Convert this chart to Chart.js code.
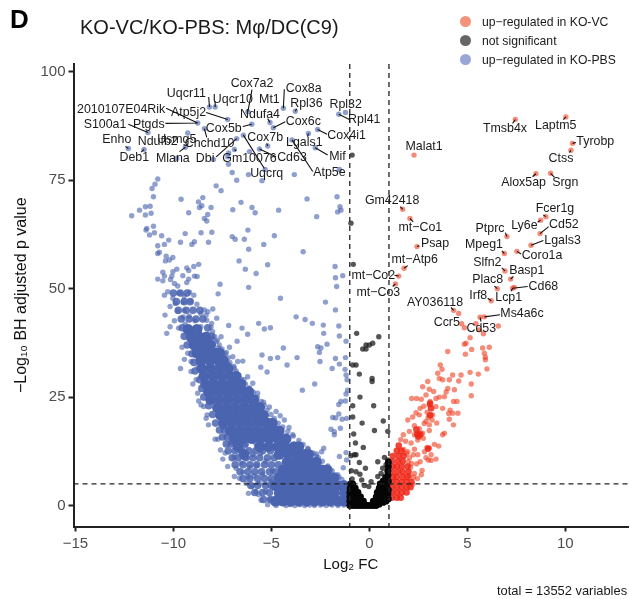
<!DOCTYPE html>
<html>
<head>
<meta charset="utf-8">
<title>KO-VC/KO-PBS volcano</title>
<script src="https://cdn.jsdelivr.net/npm/chart.js@4"></script>
<style>
body { margin: 0; background: #fff; font-family: "Liberation Sans", sans-serif; color: #1a1a1a; }
#wrap { position: relative; width: 630px; height: 599px; overflow: hidden; }
#wrap div { position: absolute; white-space: nowrap; }
.dot { width: 11px; height: 11px; border-radius: 50%; }
.leg { font-size: 12.2px; line-height: 14px; left: 482px; }
</style>
</head>
<body>
<div id="wrap">
<canvas id="myChart" width="630" height="599"></canvas>
<div style="left:10px;top:4px;font-size:26px;font-weight:bold;color:#000">D</div>
<div style="left:80px;top:16px;font-size:20px">KO-VC/KO-PBS: Mφ/DC(C9)</div>
<div class="dot" style="left:460px;top:16px;background:#f4927b"></div>
<div class="dot" style="left:460px;top:35px;background:#666"></div>
<div class="dot" style="left:460px;top:54px;background:#9aa6d8"></div>
<div class="leg" style="top:15px">up−regulated in KO-VC</div>
<div class="leg" style="top:34px">not significant</div>
<div class="leg" style="top:53px">up−regulated in KO-PBS</div>
<div style="left:497px;top:583px;font-size:12.9px">total = 13552 variables</div>
</div>
<script>
const xTicks = [-15, -10, -5, 0, 5, 10];
const yTicks = [0, 25, 50, 75, 100];
const xCutoffs = [-1, 1];
const yCutoff = 5;

// labelled genes: name and text centre
const geneNames = ['Uqcr11','Cox7a2','Cox8a','Uqcr10','Mt1','Rpl36','Rpl32','2010107E04Rik','Atp5j2','Ndufa4','S100a1','Ptgds','Cox5b','Cox6c','Rpl41','Cox4i1','Usmg5','Cox7b','Enho','Ndufb2','Lgals1','Chchd10','Deb1','Mlana','Dbi','Gm10076','Cd63','Mif','Uqcrq','Atp5e',
    'Tmsb4x','Laptm5','Tyrobp','Ctss','Malat1','Alox5ap','Srgn','Gm42418','mt−Co1','Fcer1g','Ly6e','Cd52','Ptprc','Lgals3','Psap','Mpeg1','Coro1a','mt−Atp6','Slfn2','Basp1','mt−Co2','Plac8','Cd68','mt−Co3','Irf8','Lcp1','AY036118','Ms4a6c','Ccr5','Cd53'];
const geneTextX = [-9.34,-5.99,-3.35,-6.97,-5.1,-3.21,-1.21,-12.67,-9.23,-5.58,-13.49,-11.26,-7.43,-3.37,-0.26,-1.16,-9.83,-5.32,-12.89,-10.8,-3.32,-8.16,-12,-10.03,-8.38,-6.12,-3.95,-1.63,-5.24,-2.04,
    6.92,9.51,11.53,9.78,2.79,7.87,10,1.16,2.6,9.47,7.91,9.93,6.16,9.86,3.35,5.85,8.81,2.31,6.02,8.03,0.2,6.04,8.88,0.46,5.56,7.11,3.35,7.79,3.95,5.71];
const geneTextY = [95,97.3,96.2,93.7,93.7,92.7,92.5,91.4,90.6,90.2,87.9,87.9,86.9,88.6,88.9,85.3,84.4,84.8,84.3,83.9,83.6,83.5,80.2,80,80,80,80.2,80.4,76.6,76.7,
    86.9,87.6,84,80,82.7,74.4,74.5,70.2,64.1,68.4,64.5,64.7,63.9,61.1,60.5,60.1,57.6,56.6,56.1,54.1,53.1,52,50.5,49,48.4,47.9,46.9,44.2,42.2,40.9];

// connectors as [fromX, fromY, toX, toY]
const connectors = [[-8.2,94.2,-8.16,91.9],[-7.87,93.2,-7.87,91.9],[-5.99,95.9,-6.2,90.8],[-4.34,96,-4.39,91.6],[-3.71,91.5,-3.78,90.9],[-1.02,89,-1.56,90.2],[-10.37,91.6,-8.76,88.2],[-12.3,87.9,-11.3,86],[-10.41,88.1,-8.76,88.2],[-8.33,90.6,-7.23,89],[-5.19,89.2,-5.07,88.3],[-6.46,87.4,-6,87.9],[-4.29,88.5,-4.9,87.1],[-2.16,85.6,-2.64,86.7],[-2.13,80.8,-2.76,82.5],[-2.89,77,-3.95,84.3],[-3.15,85,-3.11,85.8],[-5.24,83.5,-5.19,82.9],[-5.36,77.7,-6.43,85.4],[-4.76,80.4,-5.61,82.2],[-6.8,81.8,-6.89,82.1],[-7.82,80.4,-6.77,84.6],[-8.3,84.9,-8.42,86.9],[-9.69,81.6,-9.39,82.6],[-12.45,82.8,-12.3,82.3],[-11.65,81.5,-11.5,82.1],
    [7.31,88.1,7.45,89],[9.9,89,10.03,89.6],[10.54,83.7,10.37,83.5],[10.2,81.4,10.29,81.9],[8.33,75.8,8.5,76.5],[9.44,75.7,9.25,76.6],[1.58,68.9,1.7,68.3],[2.24,65.4,2.07,66.2],[2.55,59.9,2.43,59.7],[1.96,55.3,1.77,54.7],[1.28,53.1,1.5,52.9],[1.19,50.5,1.33,51.1],[6.94,62.9,7.02,62],[6.76,58.7,6.89,58.1],[7.74,58,7.53,58.6],[8.88,61.1,8.25,60],[9.15,64.3,8.71,62.7],[8.59,65.3,8.74,65.8],[8.88,67,9.01,66.6],[6.76,54.8,6.92,54.1],[7.35,52.8,7.21,52.2],[8.08,50.5,7.31,50.1],[7.23,49.4,7.31,50.1],[6.38,50.6,6.53,50],[6.04,47.8,6.22,47.2],[4.17,45.7,4.3,45],[6.67,44,5.87,43.5],[5.7,42.4,5.65,43.4]];

const blueSparse = [[-8.16,91.9],[-7.87,91.9],[-7.23,89],[-8.76,88.2],[-11.3,86],[-12.3,82.3],[-11.5,82.1],[-9.27,85.9],[-8.42,86.9],[-9.39,82.6],[-9.83,80],[-7.96,79.8],[-6.77,84.6],[-6.43,85.4],[-6,87.9],[-6.2,90.8],[-5.07,88.3],[-4.9,87.1],[-4.39,91.6],[-3.78,90.9],[-1.56,90.2],[-1.22,90.6],[-2.64,86.7],[-3.11,85.8],[-3.95,84.3],[-2.76,82.5],[-5.19,82.9],[-5.61,82.2],[-6.12,81.6],[-6.89,82.1],[-7.18,81.3],[-7.23,80.4],[-7.19,78.7],[-7,76.8],[-6.77,75],[-6.17,76.3],[-5.48,74.9],[-5.32,77.5],[-3.83,76.3],[-1.53,77.5],
    [-10.8,75.3],[-10.94,74.1],[-11.09,73.1],[-11.02,71.2],[-7.82,73.7],[-7.57,72.6],[-9.61,70.6],[-8.5,71],[-8.72,70],[-8.55,69.1],[-8.67,68.7],[-8.08,68.7],[-6.55,69.9],[-5.99,68.7],[-6.97,68.2],[-4.63,68.1],[-3.18,70.7],[-1.65,71.2],[-1.5,68.9],[-1.45,68.1],[-1.62,67.7],[-2.69,66.6],[-5.83,67.5],[-9.22,67.5],[-8.25,67.1],[-8.42,66.2],[-8.3,65.6],[-11.73,68.1],[-11.43,68.9],[-11.19,69],[-11.43,67],[-11.14,67.4],[-12.13,66.8],[-11.36,63.9],[-11.02,64.4],[-6.2,63.5],
    [-11.4,63.5],[-11.22,62.4],[-10.97,62.9],[-10.6,62.2],[-9.4,62.7],[-8.59,62.9],[-8.04,63],[-7,62],[-6.85,61.4],[-6.38,61.4],[-4.85,62.2],[-5.39,60.2],[-6.16,59.1],[-3.38,58.5],[-10.24,61.2],[-10.8,59.9],[-10.46,60.2],[-9.64,60.7],[-9.06,60.2],[-8.93,60.8],[-8.21,60.7],[-10.8,58.1],[-10.72,58.4],[-10.37,57.5],[-10.03,57.2],[-10.41,56.4],[-10.2,56.6],[-9.32,54.8],[-8.96,55.1],[-8.71,55.6],[-9.22,54.2],[-9.83,54.5],[-10.03,53.9],[-10.54,53.8],[-10.46,52.9],[-9.52,53],[-8.93,52.9],[-8.79,52.8],[-10.08,52.9],[-10.8,52.2],[-10.54,51.8],[-10.15,52.1],[-9.22,52.2],[-9.32,51.4],[-9.95,51.2],[-9.78,50.6],[-7.62,51],[-6.16,50.3],[-7.72,48.8],[-6.65,56.4],[-6.33,54.5],[-5.78,53.5],[-5.19,55.5],[-1.75,55.1],[-1.36,53],[-1.73,52.5],[-1.67,50.5],[-4.54,47.8],[-2.24,46.9],[-1.73,45.1],[-3.74,43.5],[-3.28,42.9],[-2.91,42],[-2.35,41.6],[-1.56,41.4],[-2.33,39.7],[-1.53,39.1],[-1.19,37.9],[-5.65,42],[-6.5,40.9],[-5.36,40.7],[-5.05,41],[-6.21,39.5],[-7.18,41.5],[-6.75,37.9],[-4.39,36.3],[-2.64,36.6],[-2.47,36.3],[-2.55,35.3],[-2.16,37.2],[-5.48,34.7],[-5.05,33.9],[-4.68,34.1],[-3.69,34.1],[-4.2,32.4],[-2.52,33.2],[-1.73,33.9],[-1.22,34.1],[-1.53,32.6],[-1.9,31.6],[-1.24,31.4],[-5.54,31.9],[-5.22,30.8],[-1.19,30.1],[-1.14,29],[-2.79,28],[-3.42,26.6],[-1.11,26.6],[-1.19,25.7],[-1.45,24],[-1.22,24.1],[-1.56,23.3],[-1.56,21.1],[-1.87,20.3],[-1.72,20.2],[-1.39,19.9],[-1.16,20.1],[-1.96,17.6],[-1.79,17],[-1.48,17.8],[-1.79,16.3],[-2.33,13.2],[-2.43,12.4],[-2.69,11.9],[-1.53,11.3],[-1.19,12.2],[-1.16,10.5],[-1.33,8.7]];

const blueEdge = [[-10.46,48.5],[-10.29,49.3],[-10.03,47.8],[-9.7,49],[-9.45,48.3],[-9.18,49.2],[-8.96,48.5],[-9.9,46.6],[-9.5,46.9],[-9.1,47.1],[-8.8,46.4],[-10.17,45.9],[-10.43,43.9],[-9.95,42.6],[-10.17,41.2],[-9.74,40.9],[-10.34,39.7],[-9.8,44.8],[-9.45,45],[-8.42,45.1],[-8.24,44.7],[-7.99,45.3],[-8.33,43.9],[-8.6,44.2],[-7.79,43.2],[-8.08,41.1],[-7.57,38.9],[-7.83,37.8],[-9.56,36.5],[-9.44,33.7],[-9.64,31.6],[-9.1,33.2],[-9.27,35.1],[-9.1,30.9],[-9.01,28],[-8.84,29],[-8.71,24.1],[-8.59,23.2],[-8.76,25.9],[-8.46,22.8],[-8.28,20.9],[-8.21,18.6],[-8.33,20.1],[-7.87,15.3],[-7.73,15.3],[-7.6,12.8],[-7.48,10.7],[-7.36,12.1],[-7.23,9],[-6.89,6.7],[-6.63,6.3],[-6.29,5.1],[-6.17,2.8],[-5.78,3.2],[-5.53,1.2],[-5.19,0.2],[-4.76,0],[-4.25,0],
    [-7.14,36.5],[-6.97,34.3],[-6.72,33.2],[-6.46,33.3],[-6.21,29.7],[-5.95,28.2],[-5.7,25.9],[-4.76,21.7],[-4.34,19.7],[-3.91,16.3],[-3.15,13.2],[-2.72,11.3],[-7.3,35.3],[-6.9,31.7],[-6.4,29],[-6.15,27],[-5.4,23.8],[-5.1,22.7],[-4.55,20.7],[-4.1,18],[-3.6,15],[-2.4,10.2],[-1.9,8],[-1.55,6.6],[-1.25,5.2],
    [-1.4,6],[-1.62,7.1],[-2.12,9.1],[-2.6,11],[-2.87,12.1],[-3.12,13],[-3.38,14.1],[-3.88,16],[-4.16,17.1],[-4.42,18.1],[-4.65,19],[-4.85,20.1],[-5.02,21],[-5.22,22],[-5.36,23.1],[-5.52,24],[-5.72,25],[-5.92,26.1],[-6.12,27.1],[-6.32,28],[-6.54,29.1],[-6.66,30.1],[-6.8,31],[-6.92,32.1],[-7.12,33],[-7.2,34.1],[-7.36,35],[-7.52,36.1],[-7.66,37],[-7.76,38.1],[-7.9,39],[-8,40.1],[-8.05,42],[-8.3,42.7],
    [-6.9,11],[-6.8,8.6],[-6.6,12.6],[-6.55,9.8],[-6.45,7.7],[-6.3,13.9],[-6.3,10.9],[-6.2,6.6],[-6.1,8.8],[-6,4.4],[-5.95,11.7],[-5.9,6.8],[-5.8,14.3],[-5.75,9.2],[-5.65,2.5],[-5.6,5.1],[-5.55,12],[-5.45,7.2],[-5.3,3.3],[-5.3,10.2],[-5.2,13.4],[-5.05,1.4],[-5.05,5.6],[-4.95,8.1],[-4.8,0.9],[-4.75,11.5],[-4.55,0.5],[-4.5,3.4],[-4.3,0.7],[-4.05,0.2],[-3.8,0],[-3.55,0.2],[-3.3,0],[-3.05,0.1],[-2.8,0],[-2.5,0.1],[-2.2,0],[-1.9,0.1],[-1.6,0],[-1.3,0.1],[-7.05,14.5],[-6.85,15.8],[-7.2,17.3],[-7.45,18.1],[-7.6,20.2],[-7.85,22.4],[-8.15,24.3],[-8.35,26.1],[-8.5,27.8],[-8.75,31.8],[-8.9,34.7],[-9.1,37.1],[-9.25,39.5],[-9.4,41.8],[-9.5,43.5],[-9.2,43.7],[-8.9,42.6],[-8.6,41.2],[-8.25,39.6],[-8,38.6],[-7.7,36.3],[-7.45,34.5],[-7.2,32.6]];

// y, then the x values along that row
const blueCore = [[1,[-4.8,-4.4,-4,-3.6,-3.2,-2.8,-2.4,-2,-1.6,-1.28]],[2.8,[-4.6,-4.2,-3.8,-3.4,-3,-2.6,-2.2,-1.8,-1.28]],[4.6,[-4.8,-4.4,-4,-3.6,-3.2,-2.8,-2.4,-2,-1.6,-1.3]],[6.4,[-4.6,-4.2,-3.8,-3.4,-3,-2.6,-2.2,-1.8]],[8.2,[-4.4,-4,-3.6,-3.2,-2.8,-2.4,-2.15]],[10,[-4.2,-3.8,-3.4,-3,-2.7]],[11.8,[-6.4,-4.6,-4.15,-3.7,-3.3,-3.1]],[13.6,[-6.7,-5.6,-5.15,-4.7,-4.3,-3.85,-3.6]],[15.4,[-6.9,-6.45,-6,-5.55,-5.1,-4.65,-4.25]],[17.2,[-7.1,-6.65,-6.2,-5.75,-5.3,-4.85,-4.6]],[19,[-7.45,-7,-6.55,-6.1,-5.65,-5.2,-4.95]],[20.8,[-7.6,-7.15,-6.7,-6.25,-5.8,-5.4]],[22.6,[-7.75,-7.3,-6.85,-6.4,-5.95,-5.6]],[24.4,[-8.1,-7.65,-7.2,-6.75,-6.3,-5.9]],[26.2,[-8.2,-7.75,-7.3,-6.85,-6.4,-6.15]],[28,[-8.35,-7.9,-7.45,-7,-6.55]],[29.8,[-8.45,-8,-7.55,-7.1,-6.8]],[31.6,[-8.55,-8.1,-7.65,-7.2]],[33.4,[-8.6,-8.15,-7.7,-7.45]],[35.2,[-8.8,-8.35,-7.9,-7.65]],[37,[-8.95,-8.5,-8.1]],[38.8,[-9.1,-8.65,-8.35]],[40.6,[-9.25,-8.8]]];

// thinner part of the cloud: lower left and the upper tip
const blueMid = [[1.4,[-5.4,-5.05]],[3,[-5.85,-5.45,-5.1]],[4.6,[-6.05,-5.7,-5.3,-5]],[6.2,[-6.45,-6.1,-5.7,-5.35,-5]],[7.8,[-6.6,-6.2,-5.85,-5.5,-5.1,-4.8]],[9.4,[-6.85,-6.45,-6.1,-5.75,-5.35,-5,-4.65]],[11,[-7,-6.7,-6.3,-5.95,-5.6,-5.2,-4.85]],[12.6,[-7.2,-6.85,-6.5,-6.15,-5.8,-5.45,-5.05]],[14.2,[-7.3,-7.05,-6.7,-6.35]],[15.8,[-7.5,-7.25]],[17.4,[-7.65,-7.4]],[19,[-7.85]],[21,[-8]],[23,[-8.2]],[25,[-8.45]],[27,[-8.55]],[29,[-8.65]],[31,[-8.9]],[33,[-8.95]],[35,[-9.05]],[37,[-9.3]],[39,[-9.45,-8.05]],[41,[-9.55,-8.25]],[43,[-9.6,-9.2,-8.85,-8.5]],[45,[-9.75,-9.35,-9,-8.65]],[47,[-9.85,-9.45,-9.15]],[49,[-10,-9.65,-9.3]]];

const redSparse = [[7.45,89],[10.03,89.6],[10.37,83.5],[10.29,81.9],[2.28,80.8],[8.5,76.5],[9.25,76.6],[1.7,68.3],[2.07,66.2],[2.43,59.7],[1.77,54.7],[1.5,52.9],[1.33,51.1],[7.02,62],[6.89,58.1],[7.53,58.6],[8.25,60],[8.71,62.7],[8.74,65.8],[9.01,66.6],[6.92,54.1],[7.21,52.2],[7.31,50.1],[7.4,50.3],[6.53,50],[6.22,47.2],[4.3,45],[4.56,44.3],[5.65,43.4],[5.87,43.5],[4.71,41.9],[4.85,41],[5.44,41.9],[6.58,41.4],[5.61,40.5],[5.82,39.6],[5.14,38.7],[4.93,37.4],[4.85,37.2],[4,35.5],[5.22,36],[5.78,36.3],[6.12,36.5],[4.9,34.9],[5.87,35.1],[5.92,34.2],
    [5.92,33.6],[6,31.5],[5.56,30.3],[5.14,30.7],[4.68,30.1],[5.2,28],[5.2,25.3],[3.62,32.4],[3.71,31.4],[3.49,30.5],[3.57,29.3],[3.74,29],[4.25,30.1],[4.08,29],[4.56,28.7],[4,27],[4.34,26.7],[3.92,26.2],[2.98,28.6],[2.72,27.4],[3.06,26.8],[3.28,26.3],[2.89,25.5],[2.41,24.7],[2.16,24.7],[2.65,24.5],[3.1,24],[3.06,23.2],[3.4,24.7],[3.83,25.1],[3.57,25],[4.3,24],[4.47,24],[3.74,22.4],[3.4,22.8],[4.12,22],[4.52,21.3],[4.25,21.3],[4.05,21.2],[4.08,19.9],[4.29,18.6],[3.83,16.7],[3.74,16.3],[2.59,22.4],[2.38,21.4],[2.55,20.9],[1.96,19.7],[2.21,20.4],[2.89,19.4],[3.2,19.7],[3.44,19],[3.06,18.6],[3.23,20.9],[3.06,17.3],[2.3,16.3],[2.04,17.1],[1.73,16.3],[2.72,16.7],[2.47,15.1],[2.13,14.4],[3.32,14.1],[3.54,13.7],[2.94,13.4],[3.06,13.3],[2.81,12.4],[3.15,11.7],[3.4,10.7],[3.01,10.5],[3.15,10.4],[2.24,11.7],[2.47,11.7],[1.96,12.4],[2.89,11],[2.59,10.1],[2.41,9.6],[2.69,8.1],[2.65,7.1],[2.1,8.8],[2.3,7.4],[2.45,6.2],[1.98,10.1],[2.75,15.5],[2.3,18.4],[2.78,22.9],[2.95,21.5],[3,20.3],[2.8,18.9],[2.55,17.7],[1.85,14.8],[1.6,15.2],[2.3,13],[1.9,12],[2.05,11],[2.15,9.7],[2.25,6.5],[2.05,6.8],[1.75,12.9],[2.2,4.9]];

const redCore = [[1.8,[1.15,1.4,1.6]],[3,[1.15,1.4,1.65,1.9]],[4.2,[1.15,1.4,1.65,1.9,2.1]],[5.4,[1.15,1.4,1.65,1.9,2.15]],[6.6,[1.2,1.4,1.7,1.95]],[7.8,[1.15,1.45,1.7,2]],[9,[1.2,1.4,1.65,1.95]],[10.2,[1.15,1.45,1.7]],[11.4,[1.2,1.5,1.75]],[12.6,[1.4,1.65]],[13.8,[1.5]],[16.4,[2.45,2.6]],[15.9,[2.5]],[17.5,[2.4]],[13.1,[3]],[23.5,[3.1]],[20.8,[3.1]],[22.4,[3.15]]];

const greySparse = [[-0.88,80.8],[-0.94,65.1],[-0.82,55.6],[-0.65,39.7],[0.48,38.9],[0.17,37.4],[0,37],[-0.17,37],[-0.34,36.1],[-0.17,36.1],
    [-0.85,32.4],[-0.68,32.4],[-0.51,30.3],[0.14,29.3],[0.14,28.6],[-0.48,25],[0.22,23],[-0.85,23],[-0.85,20.4],[-0.37,19],[0.71,19.5],[0.26,17.3],[0.94,17.1],[-0.8,16.5],[-0.71,14.4],[-0.31,13.4],[-0.94,11.5],[-0.77,11.7],[-0.68,11.7],[0.77,11.1],[0.43,10.1],[-0.51,9.9],[-0.2,8.6],[-0.92,8],[-0.68,7.8],[0.68,8.6],[0.6,7.4],[-0.48,7.2],[-0.39,5.9],[-0.88,6.1],[0.43,6.7],[0.09,5.5],[-0.03,4.4],[-0.26,4.6],[0.85,9.4],[0.94,10.5],[0.9,7.8],[0.77,6.7]];

const greyCore = [[0,[-1,-0.85,-0.7,-0.55,-0.4,-0.25,-0.1,0.05,0.2,0.35]],[0.3,[0.5]],[0.7,[0.7]],[1,[-1,-0.85,-0.7,-0.55,-0.4,-0.3,0.2,0.35,0.5,0.85]],[1.5,[0.65,0.97]],[2,[-1,-0.88,-0.75,-0.6,-0.45,0.35,0.5,0.8]],[2.7,[0.65,0.95]],[3,[-1,-0.85,-0.7,-0.58,0.4,0.55]],[3.6,[0.7,0.85,0.97]],[4,[-0.98,-0.85,-0.72,0.5,0.62]],[4.8,[0.75,0.9]],[5,[-0.95,-0.85,0.55]],[5.6,[0.7,0.97]],[6.4,[0.85]],[7,[0.95]],[8,[0.95]],[9,[0.97]],[10,[0.97]]];

function toPoints(pairs) {
    return pairs.map(function (p) { return { x: p[0], y: p[1] }; });
}

function rowsToPoints(rows) {
    var points = [];
    rows.forEach(function (row) {
        row[1].forEach(function (x) { points.push({ x: x, y: row[0] }); });
    });
    return points;
}

function dots(data, color, radius, order) {
    return { data: data, backgroundColor: color, borderWidth: 0, pointRadius: radius, pointHoverRadius: radius, order: order };
}

// keep the plot box where it is in the picture, whatever the tick labels need
function fixWidth(scale) {
    scale.width = 73.5;
    scale.paddingTop = 0;
    scale.paddingBottom = 0;
}

function fixHeight(scale) {
    scale.height = 72.5;
    scale.paddingLeft = 0;
    scale.paddingRight = 0;
}

function minusSign(value) {
    return String(value).replace('-', '−');
}

const overlays = {
    id: 'overlays',
    afterDatasetsDraw: function (chart) {
        var ctx = chart.ctx;
        var xs = chart.scales.x;
        var ys = chart.scales.y;
        var area = chart.chartArea;

        ctx.save();
        ctx.strokeStyle = '#222';
        ctx.lineWidth = 1.3;
        ctx.setLineDash([5, 4]);
        ctx.beginPath();
        xCutoffs.forEach(function (v) {
            ctx.moveTo(xs.getPixelForValue(v), area.top);
            ctx.lineTo(xs.getPixelForValue(v), area.bottom);
        });
        ctx.moveTo(area.left, ys.getPixelForValue(yCutoff));
        ctx.lineTo(area.right, ys.getPixelForValue(yCutoff));
        ctx.stroke();
        ctx.setLineDash([]);

        ctx.strokeStyle = '#111';
        ctx.lineWidth = 1.1;
        ctx.beginPath();
        connectors.forEach(function (c) {
            ctx.moveTo(xs.getPixelForValue(c[0]), ys.getPixelForValue(c[1]));
            ctx.lineTo(xs.getPixelForValue(c[2]), ys.getPixelForValue(c[3]));
        });
        ctx.stroke();

        ctx.fillStyle = '#1a1a1a';
        ctx.font = '12.4px "Liberation Sans"';
        ctx.textAlign = 'center';
        ctx.textBaseline = 'middle';
        geneNames.forEach(function (name, i) {
            ctx.fillText(name, xs.getPixelForValue(geneTextX[i]), ys.getPixelForValue(geneTextY[i]));
        });
        ctx.restore();
    }
};

function createChart() {
    var ctx = document.getElementById('myChart').getContext('2d');
    return new Chart(ctx, {
        type: 'scatter',
        data: {
            datasets: [
                dots(rowsToPoints(blueCore), '#4a64b0', 5.4, 7),
                dots(rowsToPoints(blueMid), 'rgba(74,100,176,0.85)', 3.8, 6),
                dots(toPoints(blueEdge), 'rgba(74,100,176,0.62)', 2.7, 5),
                dots(toPoints(blueSparse), 'rgba(74,100,176,0.62)', 2.7, 4),
                dots(toPoints(redSparse), 'rgba(238,62,32,0.6)', 2.7, 3),
                dots(rowsToPoints(redCore), 'rgba(238,36,22,0.85)', 3.3, 2),
                dots(toPoints(greySparse), 'rgba(30,30,30,0.75)', 2.7, 1),
                dots(rowsToPoints(greyCore), '#050505', 3.4, 0)
            ]
        },
        options: {
            responsive: false,
            animation: false,
            events: [],
            layout: { autoPadding: false, padding: { top: 64, right: 2, left: 0, bottom: 0 } },
            plugins: { legend: { display: false }, tooltip: { enabled: false } },
            scales: {
                x: {
                    type: 'linear',
                    min: -15.1,
                    max: 13.2,
                    afterBuildTicks: function (axis) { axis.ticks = xTicks.map(function (v) { return { value: v }; }); },
                    afterFit: fixHeight,
                    border: { color: '#222', width: 2 },
                    grid: { drawOnChartArea: false, tickColor: '#222', tickWidth: 2, tickLength: 5 },
                    ticks: { color: '#4d4d4d', font: { family: 'Liberation Sans', size: 15 }, padding: 3, maxRotation: 0, callback: minusSign },
                    title: { display: true, text: 'Log₂ FC', color: '#111', font: { family: 'Liberation Sans', size: 15 }, padding: { top: 0, bottom: 25 } }
                },
                y: {
                    type: 'linear',
                    min: -4.84,
                    max: 101.8,
                    afterBuildTicks: function (axis) { axis.ticks = yTicks.map(function (v) { return { value: v }; }); },
                    afterFit: fixWidth,
                    border: { color: '#222', width: 2 },
                    grid: { drawOnChartArea: false, tickColor: '#222', tickWidth: 2, tickLength: 5 },
                    ticks: { color: '#4d4d4d', font: { family: 'Liberation Sans', size: 15 }, padding: 3, callback: minusSign },
                    title: { display: true, text: '−Log₁₀ BH adjusted p value', color: '#111', font: { family: 'Liberation Sans', size: 16 }, padding: { top: 12, bottom: 0 } }
                }
            }
        },
        plugins: [overlays]
    });
}

createChart();
</script>
</body>
</html>
